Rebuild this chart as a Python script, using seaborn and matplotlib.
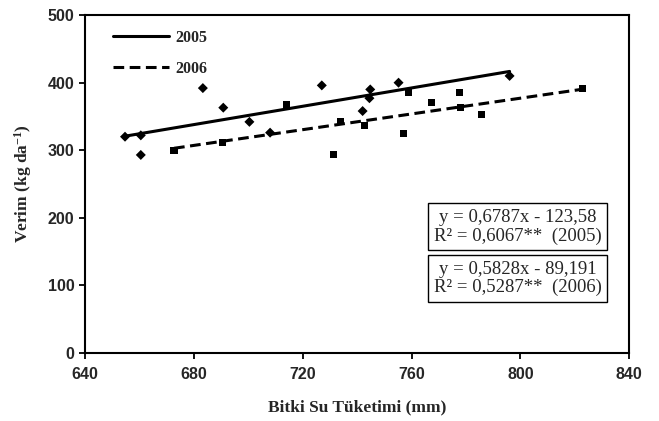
import numpy as np
import pandas as pd
import matplotlib.pyplot as plt
import seaborn as sns

# values
x_2005 = [654.7, 660.5, 660.5, 683.3, 690.8, 700.4, 708.0, 727.0, 744.8, 744.5, 742.0, 755.2, 796.0]
y_2005 = [320, 322, 293, 392, 363, 342, 326, 396, 390, 377, 358, 400, 410]
x_2006 = [672.7, 690.5, 714.0, 731.3, 734.0, 742.6, 758.8, 757.0, 767.4, 777.6, 778.0, 785.6, 822.7]
y_2006 = [300, 312, 368, 293, 342, 336, 385, 325, 370, 385, 363, 353, 392]
years = ["2005", "2006"]
slopes = [0.6787, 0.5828]
intercepts = [-123.58, -89.191]
r2_values = ["0,6067", "0,5287"]
eq_labels = ["y = 0,6787x - 123,58", "y = 0,5828x - 89,191"]
x_ticks = [640, 680, 720, 760, 800, 840]
y_ticks = [0, 100, 200, 300, 400, 500]

points = pd.concat([
    pd.DataFrame({"x": x_2005, "y": y_2005, "year": "2005"}),
    pd.DataFrame({"x": x_2006, "y": y_2006, "year": "2006"}),
])

sns.set_style("ticks")
plt.rcParams["mathtext.default"] = "regular"
serif = ["Liberation Serif", "DejaVu Serif"]
sans = ["Liberation Sans", "DejaVu Sans"]

fig = plt.figure(figsize=(6.59, 4.21), dpi=100)
ax = fig.add_axes([0.129, 0.162, 0.826, 0.802])

sns.scatterplot(data=points, x="x", y="y", style="year", markers={"2005": "D", "2006": "s"},
                color="black", s=26, edgecolor="black", linewidth=0, legend=False, ax=ax)

# trend lines from the reported equations, over each year's data range
handles = []
for xs, a, b, yr, ls in zip([x_2005, x_2006], slopes, intercepts, years, ["-", (0, (3.5, 1.8))]):
    xl = np.array([min(xs), max(xs)])
    line = pd.DataFrame({"x": xl, "y": a * xl + b})
    sns.lineplot(data=line, x="x", y="y", color="black", lw=2.2, ax=ax)
    ax.lines[-1].set_linestyle(ls)
    handles.append(ax.lines[-1])

leg = ax.legend(handles, years, loc="upper left", bbox_to_anchor=(0.025, 1.0), frameon=False,
                handlelength=3.5, handletextpad=0.4, labelspacing=0.95,
                prop={"family": serif, "weight": "bold", "size": 11.5})

ax.set_xlim(640, 840)
ax.set_ylim(0, 500)
ax.set_xticks(x_ticks)
ax.set_yticks(y_ticks)
for lab in ax.get_xticklabels() + ax.get_yticklabels():
    lab.set_family(sans)
    lab.set_weight("bold")
    lab.set_fontsize(11.5)
ax.tick_params(direction="out", length=4, width=1.3, color="black")
ax.tick_params(axis="x", pad=6)
for sp in ax.spines.values():
    sp.set_visible(True)
    sp.set_linewidth(1.5)
    sp.set_color("black")

ax.set_xlabel("Bitki Su Tüketimi (mm)", family=serif, weight="bold", fontsize=12.5, labelpad=13)
ax.set_ylabel("Verim (kg da$^{-1}$)", family=serif, weight="bold", fontsize=12.5, labelpad=10)

for i, yc in enumerate([0.373, 0.220]):
    txt = eq_labels[i] + "\nR² = " + r2_values[i] + "**  (" + years[i] + ")"
    ax.text(0.795, yc, txt, transform=ax.transAxes, ha="center", va="center", ma="center",
            family=serif, fontsize=13.5, linespacing=1.1,
            bbox=dict(boxstyle="square,pad=0.3", fc="white", ec="black", lw=1))

fig.savefig("out.png", dpi=100)
